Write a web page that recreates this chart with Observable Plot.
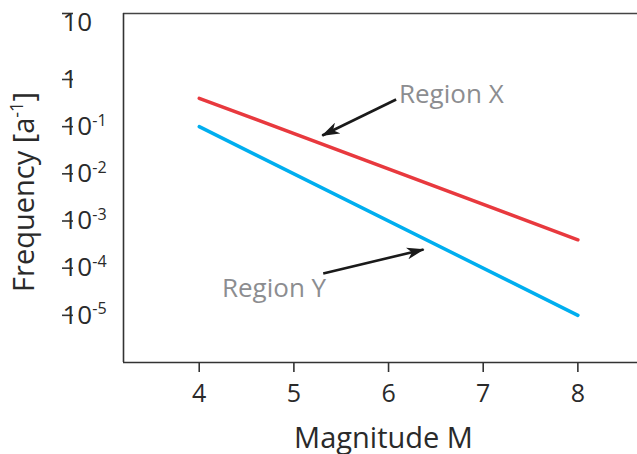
<!DOCTYPE html>
<html><head><meta charset="utf-8">
<script src="https://cdn.jsdelivr.net/npm/d3@7"></script>
<script src="https://cdn.jsdelivr.net/npm/@observablehq/plot@0.6"></script>
<style>body{margin:0;background:#fff}svg{display:block}</style>
</head><body><div id="chart"></div>
<script>
// ---- data ----
const magnitude = [4, 8];
const regionX = [0.4, 0.0004];
const regionY = [0.1, 0.00001];
const seriesNames = ["Region X", "Region Y"];
const seriesColors = ["#e8393e", "#00aeef"];
const xTicks = [4, 5, 6, 7, 8];
const yTicks = [10, 1, 0.1, 0.01, 0.001, 0.0001, 0.00001];
const yTickLabels = ["10", "1", "10^{-1}", "10^{-2}", "10^{-3}", "10^{-4}", "10^{-5}"];
const xLabel = "Magnitude M";
const yLabel = "Frequency [a^{-1}]";
// annotation arrows: tail -> tip, in data coords
const arrowTail = [[6.08, 0.377], [5.31, 7.7e-5]];
const arrowTip = [[5.30, 0.065], [6.37, 2.49e-4]];
// annotation label anchors (start, baseline)
const labelPos = [[6.11, 0.325], [4.24, 2.4e-5]];

const lineData = [
  ...magnitude.map((m, i) => ({m, f: regionX[i], s: seriesNames[0]})),
  ...magnitude.map((m, i) => ({m, f: regionY[i], s: seriesNames[1]}))
];
const arrows = arrowTail.map((t, i) => ({x1: t[0], y1: t[1], x2: arrowTip[i][0], y2: arrowTip[i][1]}));
const labels = seriesNames.map((s, i) => ({s, x: labelPos[i][0], y: labelPos[i][1]}));
const tickLab = new Map(yTicks.map((t, i) => [t, yTickLabels[i]]));

const ink = "#2a2a2a";
const plot = Plot.plot({
  width: 637, height: 454,
  marginLeft: 123, marginRight: 0, marginTop: 13, marginBottom: 92,
  style: {fontFamily: "'Open Sans', sans-serif", background: "#fff", color: ink},
  x: {domain: [3.2, 8.63], axis: null},
  y: {type: "log", domain: [1e-6, 1, 10], range: [362, 79, 13], axis: null},
  color: {domain: seriesNames, range: seriesColors},
  marks: [
    Plot.ruleY([10], {stroke: "#444", strokeWidth: 1.6}),
    Plot.ruleY([1e-6], {stroke: "#333", strokeWidth: 1.6}),
    Plot.ruleX([3.2], {stroke: "#333", strokeWidth: 1.6}),
    Plot.axisX(xTicks, {tickSize: 10, tickPadding: 12, fontSize: 25, stroke: "#333", strokeWidth: 1.6, fill: ink}),
    Plot.axisY(yTicks, {tickSize: 11, tickPadding: 0, dx: -50, textAnchor: "start", fontSize: 26,
      stroke: "#333", strokeWidth: 1.6, fill: ink,
      tickFormat: d => d === 10 ? "" : tickLab.get(d)}),
    Plot.text([10], {y: d => d, text: d => tickLab.get(d), frameAnchor: "left", dx: -61, dy: 9,
      textAnchor: "start", fontSize: 26, fill: ink}),
    Plot.line(lineData, {x: "m", y: "f", stroke: "s", z: "s", strokeWidth: 3.5}),
    Plot.link(arrows, {x1: "x1", y1: "y1", x2: "x2", y2: "y2", stroke: "#1a1a1a", strokeWidth: 2.6}),
    Plot.text(labels, {x: "x", y: "y", text: "s", textAnchor: "start", lineAnchor: "bottom", fontSize: 26, fill: "#8c8d90"}),
    Plot.text([xLabel], {text: d => d, frameAnchor: "bottom", textAnchor: "middle", dx: 3, dy: 85, lineAnchor: "bottom", fontSize: 29, fill: ink}),
    Plot.text([yLabel], {text: d => d, frameAnchor: "left", textAnchor: "middle", dx: -90, dy: 4, rotate: -90, lineAnchor: "bottom", fontSize: 29, fill: ink})
  ]
});

// superscripts
plot.querySelectorAll("text").forEach(t => {
  const s = t.textContent;
  if (!s.includes("^{")) return;
  const fs = parseFloat(t.getAttribute("font-size")) || parseFloat(t.parentNode.getAttribute("font-size")) || 26;
  const shift = fs * 0.36;
  const parts = s.split(/(\^\{[^}]*\})/);
  t.textContent = "";
  let raised = false;
  parts.forEach(p => {
    if (!p) return;
    const ts = document.createElementNS("http://www.w3.org/2000/svg", "tspan");
    if (p.startsWith("^{")) {
      ts.textContent = p.slice(2, -1);
      ts.setAttribute("font-size", (fs * 0.62).toFixed(1));
      ts.setAttribute("dy", (-shift).toFixed(1));
      raised = true;
    } else {
      ts.textContent = p;
      if (raised) { ts.setAttribute("dy", shift.toFixed(1)); raised = false; }
    }
    t.appendChild(ts);
  });
});

// filled arrowheads
const ns = "http://www.w3.org/2000/svg";
const defs = document.createElementNS(ns, "defs");
const marker = document.createElementNS(ns, "marker");
marker.setAttribute("id", "ahead");
marker.setAttribute("viewBox", "0 0 18 12");
marker.setAttribute("refX", "17");
marker.setAttribute("refY", "6");
marker.setAttribute("markerUnits", "userSpaceOnUse");
marker.setAttribute("markerWidth", "18");
marker.setAttribute("markerHeight", "12");
marker.setAttribute("orient", "auto");
const mp = document.createElementNS(ns, "path");
mp.setAttribute("d", "M0,0 L18,6 L0,12 L5,6 Z");
mp.setAttribute("fill", "#1a1a1a");
marker.appendChild(mp);
defs.appendChild(marker);
plot.insertBefore(defs, plot.firstChild);
plot.querySelectorAll('g[aria-label="link"] path').forEach(p => p.setAttribute("marker-end", "url(#ahead)"));

document.getElementById("chart").appendChild(plot);
</script>
</body></html>
